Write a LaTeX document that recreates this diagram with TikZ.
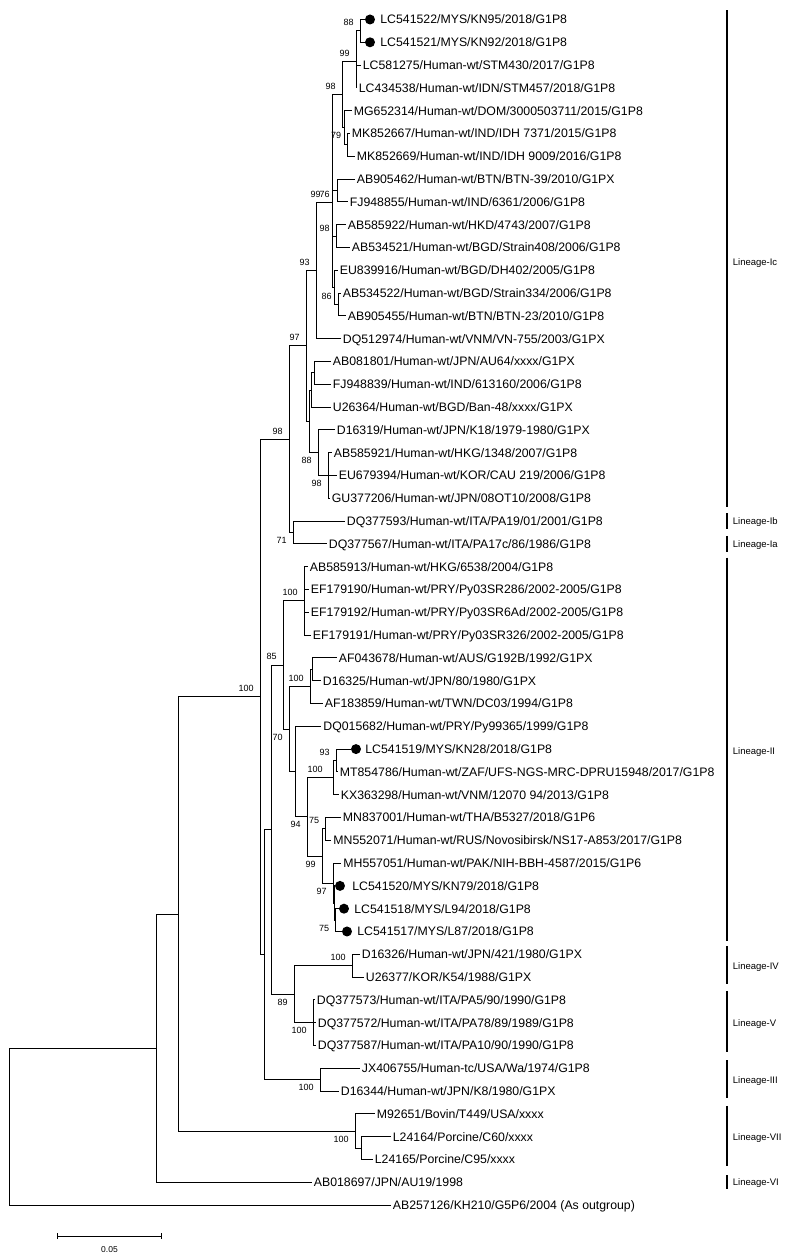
\documentclass[tikz,border=0pt]{standalone}
\usepackage{fontspec}
\setmainfont{Liberation Sans}
\usetikzlibrary{arrows.meta}
\newcommand{\leaffont}{\fontsize{12.3pt}{14pt}\selectfont}
\newcommand{\bsfont}{\fontsize{9pt}{10pt}\selectfont}
\newcommand{\linfont}{\fontsize{9.5pt}{11pt}\selectfont}
\begin{document}
\begin{tikzpicture}[x=1pt, y=-22.8pt, line width=0.8pt,
  leaf/.style={anchor=west, inner sep=1.5pt, text height=8.8pt, text depth=0pt, font=\leaffont},
  ownstrain/.style={circle, fill, inner sep=0pt, minimum size=10pt},
  bsup/.style={anchor=south east, inner sep=0pt, font=\bsfont, xshift=-6pt, yshift=4.5pt},
  bsdown/.style={anchor=north east, inner sep=0pt, font=\bsfont, xshift=-6pt, yshift=-4.5pt},
  lineage/.style={anchor=west, inner sep=1.5pt, text height=6.8pt, text depth=0pt, font=\linfont},
  lbar/.style={line width=1.1pt}]
\fill[white] (0,0.1447) rectangle (800,55.19);
\useasboundingbox (0,0.1447) rectangle (800,55.19);
% leaves
\node[ownstrain] (d1) at (370,1) {};
\node[leaf] (l1) at (378.5,1) {LC541522/MYS/KN95/2018/G1P8};
\node[ownstrain] (d2) at (370,2) {};
\node[leaf] (l2) at (378.5,2) {LC541521/MYS/KN92/2018/G1P8};
\node[leaf] (l3) at (361,3) {LC581275/Human-wt/STM430/2017/G1P8};
\node[leaf] (l4) at (357,4) {LC434538/Human-wt/IDN/STM457/2018/G1P8};
\node[leaf] (l5) at (352,5) {MG652314/Human-wt/DOM/3000503711/2015/G1P8};
\node[leaf] (l6) at (350,6) {MK852667/Human-wt/IND/IDH 7371/2015/G1P8};
\node[leaf] (l7) at (355,7) {MK852669/Human-wt/IND/IDH 9009/2016/G1P8};
\node[leaf] (l8) at (355,8) {AB905462/Human-wt/BTN/BTN-39/2010/G1PX};
\node[leaf] (l9) at (348,9) {FJ948855/Human-wt/IND/6361/2006/G1P8};
\node[leaf] (l10) at (346,10) {AB585922/Human-wt/HKD/4743/2007/G1P8};
\node[leaf] (l11) at (350,11) {AB534521/Human-wt/BGD/Strain408/2006/G1P8};
\node[leaf] (l12) at (338,12) {EU839916/Human-wt/BGD/DH402/2005/G1P8};
\node[leaf] (l13) at (341,13) {AB534522/Human-wt/BGD/Strain334/2006/G1P8};
\node[leaf] (l14) at (346,14) {AB905455/Human-wt/BTN/BTN-23/2010/G1P8};
\node[leaf] (l15) at (341,15) {DQ512974/Human-wt/VNM/VN-755/2003/G1PX};
\node[leaf] (l16) at (331,16) {AB081801/Human-wt/JPN/AU64/xxxx/G1PX};
\node[leaf] (l17) at (331,17) {FJ948839/Human-wt/IND/613160/2006/G1P8};
\node[leaf] (l18) at (331,18) {U26364/Human-wt/BGD/Ban-48/xxxx/G1PX};
\node[leaf] (l19) at (335,19) {D16319/Human-wt/JPN/K18/1979-1980/G1PX};
\node[leaf] (l20) at (332,20) {AB585921/Human-wt/HKG/1348/2007/G1P8};
\node[leaf] (l21) at (337,21) {EU679394/Human-wt/KOR/CAU 219/2006/G1P8};
\node[leaf] (l22) at (330,22) {GU377206/Human-wt/JPN/08OT10/2008/G1P8};
\node[leaf] (l23) at (345,23) {DQ377593/Human-wt/ITA/PA19/01/2001/G1P8};
\node[leaf] (l24) at (327,24) {DQ377567/Human-wt/ITA/PA17c/86/1986/G1P8};
\node[leaf] (l25) at (308,25) {AB585913/Human-wt/HKG/6538/2004/G1P8};
\node[leaf] (l26) at (309,26) {EF179190/Human-wt/PRY/Py03SR286/2002-2005/G1P8};
\node[leaf] (l27) at (309,27) {EF179192/Human-wt/PRY/Py03SR6Ad/2002-2005/G1P8};
\node[leaf] (l28) at (311,28) {EF179191/Human-wt/PRY/Py03SR326/2002-2005/G1P8};
\node[leaf] (l29) at (337,29) {AF043678/Human-wt/AUS/G192B/1992/G1PX};
\node[leaf] (l30) at (321,30) {D16325/Human-wt/JPN/80/1980/G1PX};
\node[leaf] (l31) at (323,31) {AF183859/Human-wt/TWN/DC03/1994/G1P8};
\node[leaf] (l32) at (321.5,32) {DQ015682/Human-wt/PRY/Py99365/1999/G1P8};
\node[ownstrain] (d33) at (356,33) {};
\node[leaf] (l33) at (363.5,33) {LC541519/MYS/KN28/2018/G1P8};
\node[leaf] (l34) at (338,34) {MT854786/Human-wt/ZAF/UFS-NGS-MRC-DPRU15948/2017/G1P8};
\node[leaf] (l35) at (339,35) {KX363298/Human-wt/VNM/12070 94/2013/G1P8};
\node[leaf] (l36) at (341,36) {MN837001/Human-wt/THA/B5327/2018/G1P6};
\node[leaf] (l37) at (331.5,37) {MN552071/Human-wt/RUS/Novosibirsk/NS17-A853/2017/G1P8};
\node[leaf] (l38) at (341.5,38) {MH557051/Human-wt/PAK/NIH-BBH-4587/2015/G1P6};
\node[ownstrain] (d39) at (340,39) {};
\node[leaf] (l39) at (350.5,39) {LC541520/MYS/KN79/2018/G1P8};
\node[ownstrain] (d40) at (344,40) {};
\node[leaf] (l40) at (352.5,40) {LC541518/MYS/L94/2018/G1P8};
\node[ownstrain] (d41) at (347,41) {};
\node[leaf] (l41) at (355.5,41) {LC541517/MYS/L87/2018/G1P8};
\node[leaf] (l42) at (360,42) {D16326/Human-wt/JPN/421/1980/G1PX};
\node[leaf] (l43) at (364,43) {U26377/KOR/K54/1988/G1PX};
\node[leaf] (l44) at (315,44) {DQ377573/Human-wt/ITA/PA5/90/1990/G1P8};
\node[leaf] (l45) at (316,45) {DQ377572/Human-wt/ITA/PA78/89/1989/G1P8};
\node[leaf] (l46) at (316,46) {DQ377587/Human-wt/ITA/PA10/90/1990/G1P8};
\node[leaf] (l47) at (360,47) {JX406755/Human-tc/USA/Wa/1974/G1P8};
\node[leaf] (l48) at (339,48) {D16344/Human-wt/JPN/K8/1980/G1PX};
\node[leaf] (l49) at (375,49) {M92651/Bovin/T449/USA/xxxx};
\node[leaf] (l50) at (391,50) {L24164/Porcine/C60/xxxx};
\node[leaf] (l51) at (373,51) {L24165/Porcine/C95/xxxx};
\node[leaf] (l52) at (312,52) {AB018697/JPN/AU19/1998};
\node[leaf] (l53) at (391,53) {AB257126/KH210/G5P6/2004 (As outgroup)};
% internal nodes
\coordinate (rt) at (9,49.56);
\coordinate (Y) at (156,46.12);
\coordinate (Z) at (178,40.23);
\coordinate (W) at (260,30.71);
\coordinate (U) at (289,19.41);
\coordinate (V) at (293,23.5);
\coordinate (N) at (306,15.315);
\coordinate (K) at (316,12.005);
\coordinate (G) at (332,9.0104);
\coordinate (C) at (342,4.2917);
\coordinate (B) at (356,2.8333);
\coordinate (A) at (360,1.5);
\coordinate (D) at (344,5.75);
\coordinate (E) at (347,6.5);
\coordinate (H) at (337,8.5);
\coordinate (I) at (336,10.5);
\coordinate (L) at (334,12.75);
\coordinate (M) at (338,13.5);
\coordinate (R) at (309,18.625);
\coordinate (Q) at (311,17.25);
\coordinate (P) at (314,16.5);
\coordinate (S) at (318,20);
\coordinate (T) at (328,21);
\coordinate (p) at (264,42.02);
\coordinate (n) at (271,36.53);
\coordinate (m) at (283,29.31);
\coordinate (a) at (304,26.5);
\coordinate (c) at (289,32.12);
\coordinate (b) at (310,30.25);
\coordinate (bb) at (312,29.5);
\coordinate (d) at (295,33.98);
\coordinate (f) at (307,35.97);
\coordinate (g) at (333,34.25);
\coordinate (ii) at (336,33.5);
\coordinate (h) at (322,37.6875);
\coordinate (j) at (325.5,36.5);
\coordinate (k) at (333,38.875);
\coordinate (kk) at (334,39.75);
\coordinate (l) at (335.5,40.5);
\coordinate (o) at (294,43.75);
\coordinate (q) at (352,42.5);
\coordinate (r) at (313,45);
\coordinate (s) at (320,47.5);
\coordinate (t) at (355,49.75);
\coordinate (u) at (361,50.5);
% branches
\draw (rt) |- (Y) (rt) |- (l53);
\draw (Y) |- (Z) (Y) |- (l52);
\draw (Z) |- (W) (Z) |- (t);
\draw (t) |- (l49) (t) |- (u);
\draw (u) |- (l50) (u) |- (l51);
\draw (W) |- (U) (W) |- (p);
\draw (U) |- (N) (U) |- (V);
\draw (V) |- (l23) (V) |- (l24);
\draw (N) |- (K) (N) |- (R);
\draw (K) |- (G) (K) |- (l15);
\draw (G) |- (C) (G) |- (H) (G) |- (I) (G) |- (L);
\draw (C) |- (B) (C) |- (D);
\draw (B) |- (A) (B) |- (l3) (B) |- (l4);
\draw (A) |- (d1) (A) |- (d2);
\draw (D) |- (l5) (D) |- (E);
\draw (E) |- (l6) (E) |- (l7);
\draw (H) |- (l8) (H) |- (l9);
\draw (I) |- (l10) (I) |- (l11);
\draw (L) |- (l12) (L) |- (M);
\draw (M) |- (l13) (M) |- (l14);
\draw (R) |- (Q) (R) |- (S);
\draw (Q) |- (P) (Q) |- (l18);
\draw (P) |- (l16) (P) |- (l17);
\draw (S) |- (l19) (S) |- (T);
\draw (T) |- (l20) (T) |- (l21) (T) |- (l22);
\draw (p) |- (n) (p) |- (s);
\draw (s) |- (l47) (s) |- (l48);
\draw (n) |- (m) (n) |- (o);
\draw (o) |- (q) (o) |- (r);
\draw (q) |- (l42) (q) |- (l43);
\draw (r) |- (l44) (r) |- (l45) (r) |- (l46);
\draw (m) |- (a) (m) |- (c);
\draw (a) |- (l25) (a) |- (l26) (a) |- (l27) (a) |- (l28);
\draw (c) |- (b) (c) |- (d);
\draw (b) |- (bb) (b) |- (l31);
\draw (bb) |- (l29) (bb) |- (l30);
\draw (d) |- (l32) (d) |- (f);
\draw (f) |- (g) (f) |- (h);
\draw (g) |- (ii) (g) |- (l35);
\draw (ii) |- (d33) (ii) |- (l34);
\draw (h) |- (j) (h) |- (k);
\draw (j) |- (l36) (j) |- (l37);
\draw (k) |- (l38) (k) |- (kk);
\draw (kk) |- (d39) (kk) |- (l);
\draw (l) |- (d40) (l) |- (d41);
% bootstrap values
\node[bsup] (bA) at (A) {88};
\node[bsup] (bB) at (B) {99};
\node[bsup] (bC) at (C) {98};
\node[bsdown, xshift=3.5pt] (bD) at (D) {79};
\node[bsup, xshift=-5pt] (bG1) at (G) {99};
\node[bsup, xshift=4pt] (bG2) at (G) {76};
\node[bsup] (bI) at (I) {98};
\node[bsup] (bM) at (M) {86};
\node[bsup] (bK) at (K) {93};
\node[bsup] (bN) at (N) {97};
\node[bsdown] (bS) at (S) {88};
\node[bsdown] (bT) at (T) {98};
\node[bsup] (bU) at (U) {98};
\node[bsdown] (bV) at (V) {71};
\node[bsup] (bW) at (W) {100};
\node[bsup] (ba) at (a) {100};
\node[bsup] (bm) at (m) {85};
\node[bsup] (bb1) at (b) {100};
\node[bsdown] (bc) at (c) {70};
\node[bsup, xshift=-4pt] (bg) at (g) {100};
\node[bsup] (bii) at (ii) {93};
\node[bsdown] (bf) at (f) {94};
\node[bsup] (bj) at (j) {75};
\node[bsdown] (bh) at (h) {99};
\node[bsdown] (bk) at (k) {97};
\node[bsdown] (bl) at (l) {75};
\node[bsup] (bq) at (q) {100};
\node[bsdown] (bo) at (o) {89};
\node[bsdown] (br) at (r) {100};
\node[bsdown] (bs) at (s) {100};
\node[bsdown] (bt) at (t) {100};
% lineages
\coordinate (Ic1) at (727,0.6);   \coordinate (Ic2) at (727,22.4);
\coordinate (Ib1) at (727,22.65); \coordinate (Ib2) at (727,23.35);
\coordinate (Ia1) at (727,23.65); \coordinate (Ia2) at (727,24.35);
\coordinate (II1) at (727,24.6);  \coordinate (II2) at (727,41.4);
\coordinate (IV1) at (727,41.65); \coordinate (IV2) at (727,43.3);
\coordinate (V1) at (727,43.6);   \coordinate (V2) at (727,46.3);
\coordinate (III1) at (727,46.65); \coordinate (III2) at (727,48.3);
\coordinate (VII1) at (727,48.65); \coordinate (VII2) at (727,51.3);
\coordinate (VI1) at (727,51.7);  \coordinate (VI2) at (727,52.3);
\draw[lbar] (Ic1) -- (Ic2) (Ib1) -- (Ib2) (Ia1) -- (Ia2) (II1) -- (II2) (IV1) -- (IV2);
\draw[lbar] (V1) -- (V2) (III1) -- (III2) (VII1) -- (VII2) (VI1) -- (VI2);
\node[lineage] (tIc) at (731,11.65) {Lineage-Ic};
\node[lineage] (tIb) at (731,23) {Lineage-Ib};
\node[lineage] (tIa) at (731,24) {Lineage-Ia};
\node[lineage] (tII) at (731,33.1) {Lineage-II};
\node[lineage] (tIV) at (731,42.5) {Lineage-IV};
\node[lineage] (tV) at (731,45) {Lineage-V};
\node[lineage] (tIII) at (731,47.5) {Lineage-III};
\node[lineage] (tVII) at (731,50) {Lineage-VII};
\node[lineage] (tVI) at (731,52) {Lineage-VI};
% scale bar
\coordinate (sb1) at (57,54.36);
\coordinate (sb2) at (162,54.36);
\draw[{Bar[width=6pt]}-{Bar[width=6pt]}] (sb1) -- (sb2);
\node[font=\fontsize{8.5pt}{10pt}\selectfont, inner sep=0pt] (sbl) at (109.5,54.97) {0.05};
\end{tikzpicture}
\end{document}
